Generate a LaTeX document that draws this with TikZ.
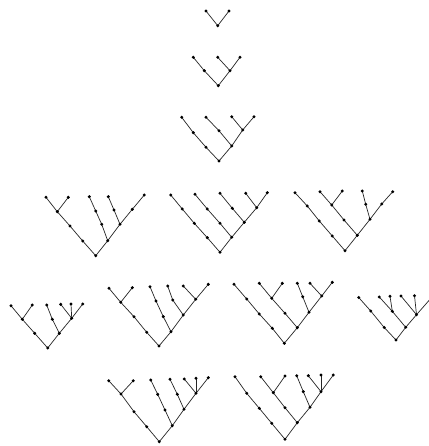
\documentclass[tikz,border=0pt]{standalone}
\usetikzlibrary{backgrounds}
\begin{document}
\begin{tikzpicture}[x=1pt,y=-1pt,
  dot/.style={circle,fill=black,inner sep=0pt,minimum size=3.3pt},
  edge/.style={draw=black!85,line width=0.7pt}]
\clip (0,0) rectangle (428,446);
% ---- row 1
\foreach \n/\p in {a0/{217.7,25.7},a1/{206,11},a2/{229,11}} \node[dot] (\n) at (\p) {};
% ---- row 2
\foreach \n/\p in {b0/{218.3,85.7},b1/{204.3,70.7},b2/{230,70.7},b3/{193.3,57.3},b4/{217.7,57.3},b5/{240,57.3}} \node[dot] (\n) at (\p) {};
% ---- row 3
\foreach \n/\p in {c0/{219,161},c1/{206,147.3},c2/{193.3,132.7},c3/{181.7,117.3},c4/{231.7,146},c5/{219,130.7},c6/{206,117.3},c7/{242.7,130},c8/{231.7,116.7},c9/{254,116.7}} \node[dot] (\n) at (\p) {};
% ---- row 4
\foreach \n/\p in {d0/{95.7,255.7},d1/{82.7,241},d2/{70,226},d3/{57.3,211.7},d4/{46,197.3},d5/{68.3,197.3},d6/{107.7,240.7},d7/{101.7,224.3},d8/{95.7,211},d9/{89.3,196.7},d10/{120,224.3},d11/{114,210},d12/{108.3,196.7},d13/{132.3,209.3},d14/{144.3,195}} \node[dot] (\n) at (\p) {};
\foreach \n/\p in {e0/{220,252.3},e1/{207.3,237.7},e2/{194.3,223.3},e3/{182.3,209},e4/{170.7,195},e5/{231.7,237.3},e6/{220,223.3},e7/{207.3,209},e8/{195,194.3},e9/{244.3,222.3},e10/{232.3,208.3},e11/{220,193.3},e12/{256.7,207.7},e13/{245.7,193.3},e14/{267.3,192.7}} \node[dot] (\n) at (\p) {};
\foreach \n/\p in {f0/{345,250.7},f1/{332.3,236},f2/{319.3,221},f3/{307.3,206},f4/{295,192.7},f5/{357.3,235.3},f6/{344,220},f7/{331.7,205},f8/{320,191.7},f9/{342.3,191},f10/{370,219.3},f11/{365.7,204.3},f12/{362.3,191},f13/{381.7,204},f14/{392.7,191.7}} \node[dot] (\n) at (\p) {};
% ---- row 5
\foreach \n/\p in {g0/{47.7,348},g1/{34.7,333.3},g2/{22.3,319.3},g3/{11,305.7},g4/{32.3,305},g5/{59.3,333.3},g6/{52.3,319.3},g7/{46.7,305},g8/{71.7,318.3},g9/{60.7,304.3},g10/{71,304},g11/{82.7,304}} \node[dot] (\n) at (\p) {};
\foreach \n/\p in {h0/{159,346},h1/{146.7,332.3},h2/{134,316.7},h3/{120.7,302.3},h4/{109,288.3},h5/{132.3,287.7},h6/{171,331.7},h7/{163.3,316.7},h8/{156,301},h9/{150,286.7},h10/{183.3,315},h11/{172.7,300},h12/{167.7,286},h13/{195.7,299.3},h14/{183.3,286},h15/{208.3,284.3}} \node[dot] (\n) at (\p) {};
\foreach \n/\p in {i0/{284.3,343.3},i1/{272.3,328.3},i2/{259.3,314},i3/{246.7,299},i4/{234,284.3},i5/{297.3,327.7},i6/{285,313.3},i7/{271.7,298.3},i8/{259.3,283.3},i9/{282.3,283.3},i10/{309,312.3},i11/{302.7,296.7},i12/{297.3,283.3},i13/{321.7,296},i14/{310,283.3},i15/{332.3,282.3}} \node[dot] (\n) at (\p) {};
\foreach \n/\p in {j0/{396,340},j1/{384.2,327.5},j2/{370.7,311},j3/{358.7,297.5},j4/{405.7,327.3},j5/{392.3,311.3},j6/{379.3,297},j7/{390,296.3},j8/{416.5,314.7},j9/{401,296},j10/{414.5,295.7},j11/{432,297}} \node[dot] (\n) at (\p) {};
% ---- row 6
\foreach \n/\p in {k0/{159.3,441.7},k1/{146.7,426.7},k2/{134,411.7},k3/{121,394},k4/{108.7,380.7},k5/{133.3,380.7},k6/{172.3,425.7},k7/{165,410},k8/{157.7,394.3},k9/{150.7,380},k10/{184,409.3},k11/{177.3,394.3},k12/{170,379.3},k13/{196,393.3},k14/{184.3,379},k15/{196,378.3},k16/{208.3,377.7}} \node[dot] (\n) at (\p) {};
\foreach \n/\p in {m0/{285,439.3},m1/{271.7,423.3},m2/{259.3,408.3},m3/{246.7,393.3},m4/{235,376.7},m5/{297.3,422.7},m6/{285,407.7},m7/{273.3,392.7},m8/{260.7,376.7},m9/{285,376},m10/{310,407.3},m11/{303.3,391.7},m12/{296.7,375.7},m13/{321,391.7},m14/{308.3,375.7},m15/{321,375},m16/{333.3,375}} \node[dot] (\n) at (\p) {};
% ---- edges (behind the dots)
\begin{scope}[on background layer]
\fill[white] (0,0) rectangle (428,446);
\foreach \u/\v in {a0/a1,a0/a2,
  b0/b1,b1/b3,b0/b2,b2/b4,b2/b5,
  c0/c1,c1/c2,c2/c3,c0/c4,c4/c5,c5/c6,c4/c7,c7/c8,c7/c9,
  d0/d1,d1/d2,d2/d3,d3/d4,d3/d5,d0/d6,d6/d7,d7/d8,d8/d9,d6/d10,d10/d11,d11/d12,d10/d13,d13/d14,
  e0/e1,e1/e2,e2/e3,e3/e4,e0/e5,e5/e6,e6/e7,e7/e8,e5/e9,e9/e10,e10/e11,e9/e12,e12/e13,e12/e14,
  f0/f1,f1/f2,f2/f3,f3/f4,f0/f5,f5/f6,f6/f7,f7/f8,f7/f9,f5/f10,f10/f11,f11/f12,f10/f13,f13/f14,
  g0/g1,g1/g2,g2/g3,g2/g4,g0/g5,g5/g6,g6/g7,g5/g8,g8/g9,g8/g10,g8/g11,
  h0/h1,h1/h2,h2/h3,h3/h4,h3/h5,h0/h6,h6/h7,h7/h8,h8/h9,h6/h10,h10/h11,h11/h12,h10/h13,h13/h14,h13/h15,
  i0/i1,i1/i2,i2/i3,i3/i4,i0/i5,i5/i6,i6/i7,i7/i8,i7/i9,i5/i10,i10/i11,i11/i12,i10/i13,i13/i14,i13/i15,
  j0/j1,j1/j2,j2/j3,j0/j4,j4/j5,j5/j6,j5/j7,j4/j8,j8/j9,j8/j10,j8/j11,
  k0/k1,k1/k2,k2/k3,k3/k4,k3/k5,k0/k6,k6/k7,k7/k8,k8/k9,k6/k10,k10/k11,k11/k12,k10/k13,k13/k14,k13/k15,k13/k16,
  m0/m1,m1/m2,m2/m3,m3/m4,m0/m5,m5/m6,m6/m7,m7/m8,m7/m9,m5/m10,m10/m11,m11/m12,m10/m13,m13/m14,m13/m15,m13/m16}
  \draw[edge] (\u.center) -- (\v.center);
\end{scope}
\end{tikzpicture}
\end{document}
